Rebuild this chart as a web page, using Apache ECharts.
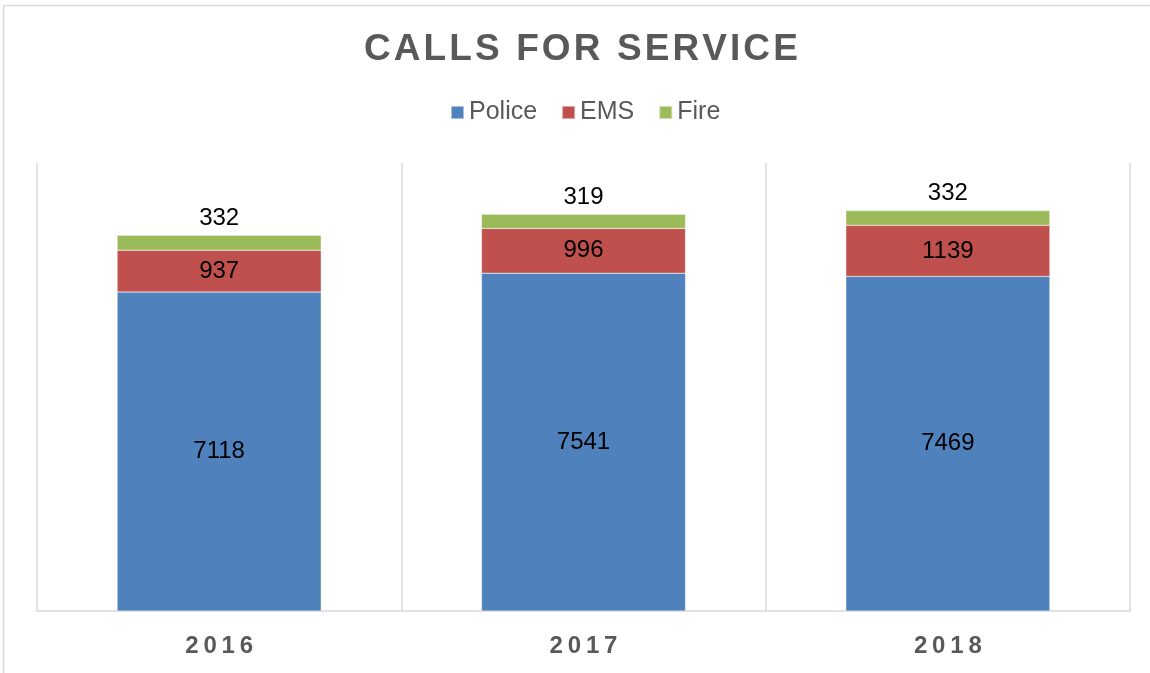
<!DOCTYPE html>
<html>
<head>
<meta charset="utf-8">
<script src="https://cdn.jsdelivr.net/npm/echarts@6/dist/echarts.min.js"></script>
<style>
  html, body { margin: 0; padding: 0; background: #fff; }
  #chart { width: 1150px; height: 673px; }
</style>
</head>
<body>
<div id="chart"></div>
<script>
var years = ["2016", "2017", "2018"];
var police = [7118, 7541, 7469];
var ems = [937, 996, 1139];
var fire = [332, 319, 332];

var greyText = "#595959";
var font = "Liberation Sans, Arial, sans-serif";
var chart = echarts.init(document.getElementById("chart"));

/*字间距: 在字母之间插入细空格*/
function spaced(str, sep) {
    return str.split("").join(sep);
}

/*每段柱子的公共设置*/
function makeSeries(name, data, color, labelPos) {
    return {
        name: name,
        type: "bar",
        stack: "calls",
        barWidth: "56%",
        data: data,
        itemStyle: { color: color, borderColor: "rgba(255,255,255,0.5)", borderWidth: 0.5 },
        label: {
            show: true,
            position: labelPos,
            color: "#000",
            fontSize: 24,
            fontFamily: font,
            distance: 5
        }
    };
}

var option = {
    animation: false,
    title: {
        text: spaced("CALLS FOR SERVICE", "\u200A"),
        left: 364,
        top: 31,
        padding: 0,
        textStyle: {
            color: greyText,
            fontSize: 37,
            fontWeight: "bold",
            fontFamily: font
        }
    },
    legend: {
        top: 100,
        left: 450,
        padding: 0,
        itemWidth: 13,
        itemHeight: 13,
        itemGap: 24,
        icon: "rect",
        textStyle: {
            color: greyText,
            fontSize: 25,
            padding: [0, 0, 0, 0],
            fontFamily: font
        },
        data: ["Police", "EMS", "Fire"]
    },
    grid: { left: 37, right: 20, top: 163, bottom: 62 },
    xAxis: {
        type: "category",
        data: years,
        axisLine: { lineStyle: { color: "#d9d9d9", width: 1.5 } },
        axisTick: { show: false },
        splitLine: { show: true, lineStyle: { color: "#d9d9d9", width: 1.5 } },
        axisLabel: {
            color: greyText,
            fontSize: 24,
            fontWeight: "bold",
            margin: 23,
            fontFamily: font,
            formatter: function (v) { return spaced(v, "\u2009"); }
        }
    },
    yAxis: {
        type: "value",
        min: 0,
        max: 10000,
        show: false,
        splitLine: { show: false }
    },
    graphic: [{
        type: "rect",
        shape: { x: 3.5, y: 5.5, width: 1200, height: 700 },
        style: { fill: "none", stroke: "#d9d9d9", lineWidth: 1.5 },
        silent: true
    }],
    series: [
        makeSeries("Police", police, "#4F81BD", "inside"),
        makeSeries("EMS", ems, "#C0504D", "inside"),
        makeSeries("Fire", fire, "#9BBB59", "top")
    ]
};
chart.setOption(option);
</script>
</body>
</html>
